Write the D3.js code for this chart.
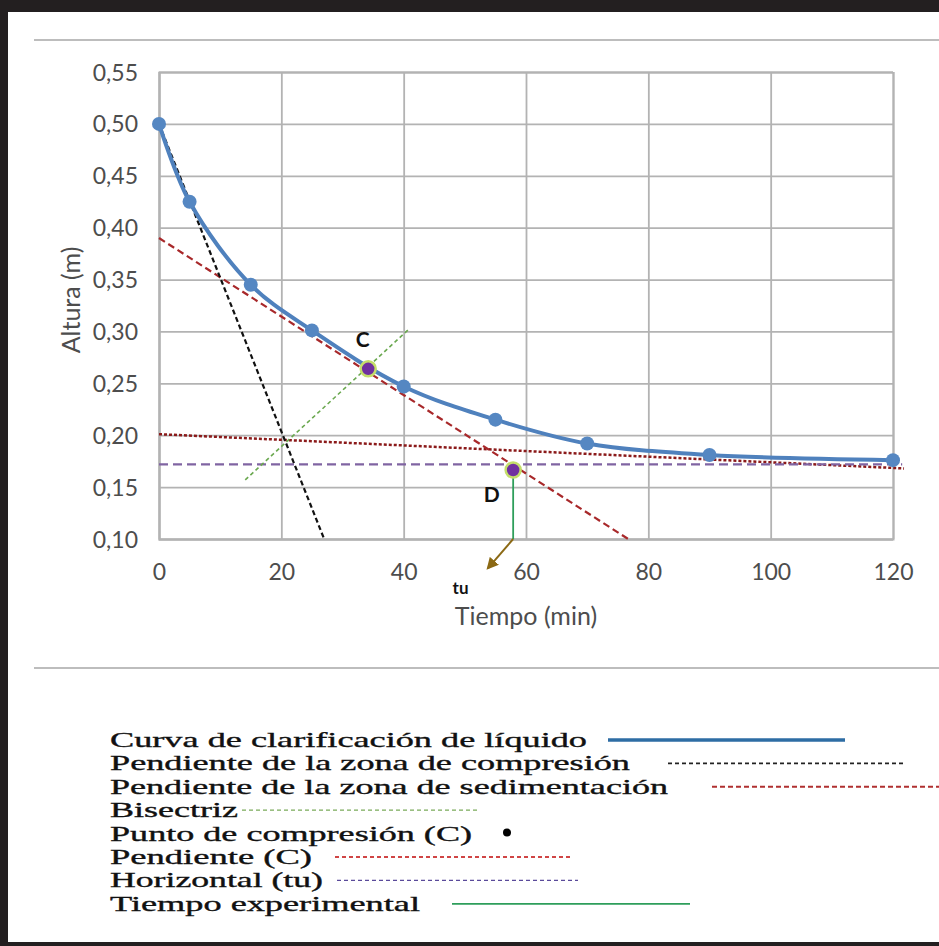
<!DOCTYPE html>
<html><head><meta charset="utf-8">
<script src="https://cdn.jsdelivr.net/npm/d3@7"></script>
<style>body{margin:0;background:#fff}svg{display:block}</style>
</head><body><svg id="c" width="939" height="946"></svg>
<script>
// ---- data ----
const times = [0, 5, 15, 25, 40, 55, 70, 90, 120];
const heights = [0.50, 0.425, 0.345, 0.301, 0.247, 0.215, 0.192, 0.181, 0.176];
const xTicks = [0, 20, 40, 60, 80, 100, 120];
const yTicks = [0.10, 0.15, 0.20, 0.25, 0.30, 0.35, 0.40, 0.45, 0.50, 0.55];
const compressionSlope = [[0, 0.50], [27, 0.10]];
const tangentC = [[0, 0.39], [76.7, 0.10]];
const sedimentSlope = [[0, 0.201], [121.8, 0.168]];
const horizontalTu = [[0, 0.172], [121.5, 0.172]];
const bisector = [[14.1, 0.157], [41.0, 0.303]];
const pointC = [34.2, 0.264];
const pointD = [57.9, 0.1665];
const tuArrow = [[57.9, 0.10], [53.8, 0.072]];
const pointLabels = [["C", 33.3, 0.292], ["D", 54.4, 0.143]];
const tuLabel = ["tu", 49.3, 0.053];
const xTitle = "Tiempo (min)";
const yTitle = "Altura (m)";
const legendLabels = [
  "Curva de clarificación de líquido",
  "Pendiente de la zona de compresión",
  "Pendiente de la zona de sedimentación",
  "Bisectriz",
  "Punto de compresión (C)",
  "Pendiente (C)",
  "Horizontal (tu)",
  "Tiempo experimental"
];

// ---- layout / styles ----
const svg = d3.select("#c");
const W = 939, H = 946;
const plot = {left: 159, right: 893, top: 72, bottom: 539};
const x = d3.scaleLinear().domain([0, 120]).range([plot.left, plot.right]);
const y = d3.scaleLinear().domain([0.10, 0.55]).range([plot.bottom, plot.top]);
const fmt = d3.formatLocale({decimal: ",", thousands: ".", grouping: [3], currency: ["", ""]}).format(".2f");
const gridCol = "#b3b3b3";
const axisFont = "Lato, 'Open Sans', sans-serif";
const textCol = "#4d4d4d";

// frame
svg.append("rect").attr("width", W).attr("height", H).attr("fill", "#fff");
svg.append("rect").attr("x", 0).attr("y", 0).attr("width", W).attr("height", 12).attr("fill", "#231f20");
svg.append("rect").attr("x", 0).attr("y", 0).attr("width", 8).attr("height", H).attr("fill", "#231f20");
svg.append("rect").attr("x", 0).attr("y", 942).attr("width", W).attr("height", 4).attr("fill", "#231f20");
svg.append("line").attr("x1", 34).attr("x2", W).attr("y1", 40).attr("y2", 40).attr("stroke", "#bdbdbd").attr("stroke-width", 2);
svg.append("line").attr("x1", 34).attr("x2", W).attr("y1", 668).attr("y2", 668).attr("stroke", "#bdbdbd").attr("stroke-width", 2);

// grid + axes
const gy = svg.append("g").attr("transform", `translate(${plot.left},0)`)
  .call(d3.axisLeft(y).tickValues(yTicks).tickSize(-(plot.right - plot.left)).tickPadding(21).tickFormat(fmt));
const gx = svg.append("g").attr("transform", `translate(0,${plot.bottom})`)
  .call(d3.axisBottom(x).tickValues(xTicks).tickSize(-(plot.bottom - plot.top)).tickPadding(22));
[gy, gx].forEach(g => {
  g.select(".domain").attr("stroke", gridCol).attr("stroke-width", 2);
  g.selectAll(".tick line").attr("stroke", gridCol).attr("stroke-width", 1.8);
  g.selectAll(".tick text").attr("fill", textCol).style("font-family", axisFont).style("font-size", "23px");
});
gy.selectAll(".tick text").attr("dy", "0.35em");
gx.selectAll(".tick text").attr("dy", "0.35em").attr("y", 33);

// axis titles
svg.append("text").attr("x", 526).attr("y", 625).attr("text-anchor", "middle")
  .attr("fill", textCol).style("font-family", axisFont).style("font-size", "25px").text(xTitle);
svg.append("text").attr("transform", "translate(80,300) rotate(-90)").attr("text-anchor", "middle")
  .attr("fill", textCol).style("font-family", axisFont).style("font-size", "25px").text(yTitle);

const line = d3.line().x(d => x(d[0])).y(d => y(d[1]));

// reference lines
svg.append("path").datum(sedimentSlope).attr("d", line).attr("fill", "none")
  .attr("stroke", "#8b1a1a").attr("stroke-width", 2.5).attr("stroke-dasharray", "3,2");
svg.append("path").datum(horizontalTu).attr("d", line).attr("fill", "none")
  .attr("stroke", "#8064a2").attr("stroke-width", 2.2).attr("stroke-dasharray", "9,5");
svg.append("path").datum(tangentC).attr("d", line).attr("fill", "none")
  .attr("stroke", "#a8282a").attr("stroke-width", 2.2).attr("stroke-dasharray", "7,4");
svg.append("path").datum(compressionSlope).attr("d", line).attr("fill", "none")
  .attr("stroke", "#111").attr("stroke-width", 2.2).attr("stroke-dasharray", "5,3");
svg.append("path").datum(bisector).attr("d", line).attr("fill", "none")
  .attr("stroke", "#6aa84f").attr("stroke-width", 1.6).attr("stroke-dasharray", "4,3");

// main curve
const curveData = times.map((t, i) => [t, heights[i]]);
svg.append("path").datum(curveData)
  .attr("d", d3.line().x(d => x(d[0])).y(d => y(d[1])).curve(d3.curveCatmullRom.alpha(0.5)))
  .attr("fill", "none").attr("stroke", "#4f81bd").attr("stroke-width", 4);
svg.selectAll("circle.pt").data(curveData).join("circle").attr("class", "pt")
  .attr("cx", d => x(d[0])).attr("cy", d => y(d[1])).attr("r", 7).attr("fill", "#5587c2");

// experimental time line + arrow
svg.append("defs").append("marker").attr("id", "arr").attr("viewBox", "0 0 10 10")
  .attr("refX", 8).attr("refY", 5).attr("markerWidth", 6).attr("markerHeight", 6).attr("orient", "auto")
  .append("path").attr("d", "M0,0 L10,5 L0,10 z").attr("fill", "#8b6914");
svg.append("line").attr("x1", x(pointD[0])).attr("x2", x(pointD[0])).attr("y1", y(pointD[1])).attr("y2", y(0.10))
  .attr("stroke", "#2e9e5b").attr("stroke-width", 1.8);
svg.append("path").datum(tuArrow).attr("d", line).attr("fill", "none")
  .attr("stroke", "#8b6914").attr("stroke-width", 2).attr("marker-end", "url(#arr)");

// special points
[pointC, pointD].forEach(p => {
  svg.append("circle").attr("cx", x(p[0])).attr("cy", y(p[1])).attr("r", 7.5)
    .attr("fill", "#7030a0").attr("stroke", "#c4de6a").attr("stroke-width", 2.5);
});
pointLabels.forEach(l => {
  svg.append("text").attr("x", x(l[1])).attr("y", y(l[2])).attr("text-anchor", "middle").attr("dy", "0.35em")
    .style("font-family", axisFont).style("font-weight", "bold").style("font-size", "21px").attr("fill", "#111").text(l[0]);
});
svg.append("text").attr("x", x(tuLabel[1])).attr("y", y(tuLabel[2])).attr("text-anchor", "middle").attr("dy", "0.35em")
  .style("font-family", axisFont).style("font-weight", "bold").style("font-size", "17px").attr("fill", "#111").text(tuLabel[0]);

// legend
const legStyle = [
  {w: 477, kind: "line", x1: 608, x2: 845, col: "#2e6da4", sw: 3.5, dash: null},
  {w: 520, kind: "line", x1: 668, x2: 906, col: "#222", sw: 1.6, dash: "4,3"},
  {w: 558, kind: "line", x1: 712, x2: 939, col: "#b03030", sw: 2, dash: "5,3"},
  {w: 128, kind: "line", x1: 242, x2: 478, col: "#7aaa5a", sw: 1.3, dash: "4,3"},
  {w: 362, kind: "dot", cx: 507},
  {w: 202, kind: "line", x1: 335, x2: 570, col: "#d04545", sw: 2, dash: "4,3"},
  {w: 213, kind: "line", x1: 337, x2: 578, col: "#5a4a9a", sw: 1.4, dash: "4,3"},
  {w: 310, kind: "line", x1: 452, x2: 690, col: "#2e9e5b", sw: 1.8, dash: null}
];
const legTop = 747, legStep = 23.4;
legendLabels.forEach((lab, i) => {
  const s = legStyle[i];
  const by = legTop + i * legStep;
  svg.append("text").attr("x", 110).attr("y", by).attr("textLength", s.w).attr("lengthAdjust", "spacingAndGlyphs")
    .style("font-family", "'Liberation Serif', 'Times New Roman', serif").style("font-size", "21px")
    .attr("fill", "#111").attr("stroke", "#111").attr("stroke-width", 0.35).text(lab);
  if (s.kind === "line") {
    svg.append("line").attr("x1", s.x1).attr("x2", s.x2).attr("y1", by - 7).attr("y2", by - 7)
      .attr("stroke", s.col).attr("stroke-width", s.sw).attr("stroke-dasharray", s.dash);
  } else {
    svg.append("circle").attr("cx", s.cx).attr("cy", by - 8).attr("r", 4).attr("fill", "#000");
  }
});
</script></body></html>
